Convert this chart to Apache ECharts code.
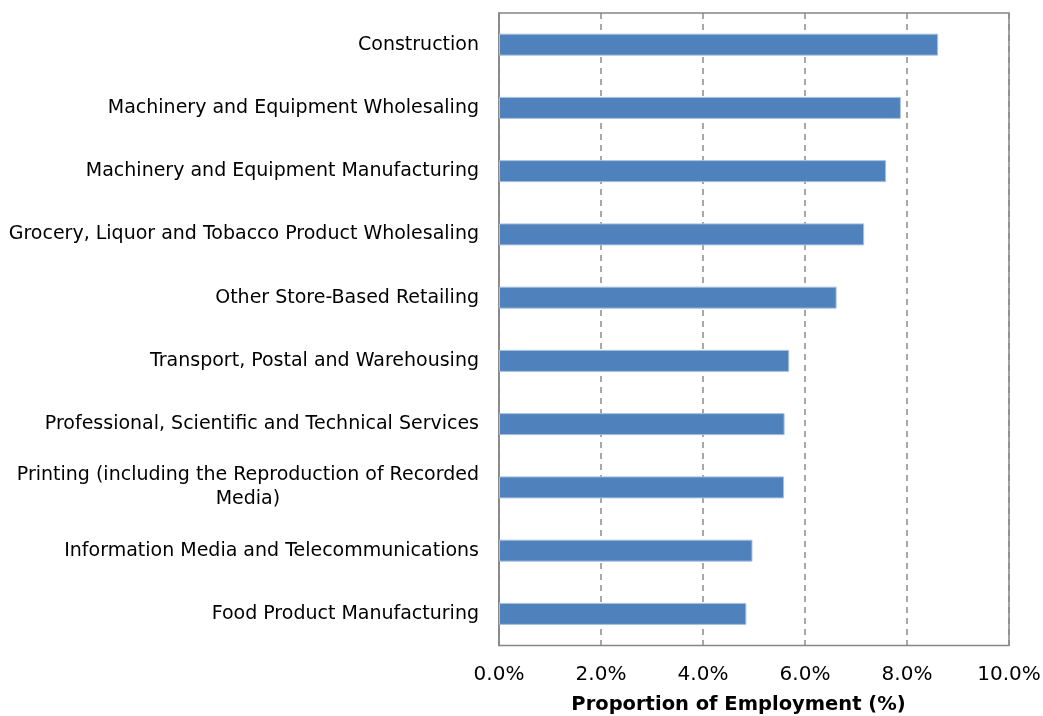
<!DOCTYPE html>
<html>
<head>
<meta charset="utf-8">
<script src="https://cdn.jsdelivr.net/npm/echarts@6/dist/echarts.min.js"></script>
<style>
  html, body { margin: 0; padding: 0; background: #fff; }
  #main { width: 1043px; height: 716px; }
</style>
</head>
<body>
<div id="main"></div>
<script>
// industries, top to bottom
const industries = [
  'Construction',
  'Machinery and Equipment Wholesaling',
  'Machinery and Equipment Manufacturing',
  'Grocery, Liquor and Tobacco Product Wholesaling',
  'Other Store-Based Retailing',
  'Transport, Postal and Warehousing',
  'Professional, Scientific and Technical Services',
  'Printing (including the Reproduction of Recorded Media)',
  'Information Media and Telecommunications',
  'Food Product Manufacturing'
];
// proportion of employment, %
const shares = [8.61, 7.88, 7.59, 7.16, 6.62, 5.69, 5.60, 5.59, 4.97, 4.85];

const font = 'DejaVu Sans';

let chart = echarts.init(document.getElementById('main'));
chart.setOption({
  animation: false,
  grid: {
    left: 499, right: 34, top: 13, bottom: 70.5,
    outerBoundsMode: 'none',
    show: true, borderColor: '#868686', borderWidth: 1.5
  },
  xAxis: {
    type: 'value',
    min: 0, max: 10, interval: 2,
    axisLine: { show: false },
    axisTick: { show: false },
    splitLine: { lineStyle: { color: '#8c8c8c', type: [6, 5], width: 1.5 } },
    axisLabel: {
      margin: 19, color: '#000', fontFamily: font, fontSize: 20,
      formatter: v => v.toFixed(1) + '%'
    },
    name: 'Proportion of Employment (%)',
    nameLocation: 'middle',
    nameGap: 49,
    nameTextStyle: {
      fontFamily: font, fontSize: 19.5, fontWeight: 'bold', color: '#000',
      padding: [0, 31, 0, 0]
    }
  },
  yAxis: {
    type: 'category',
    inverse: true,
    data: industries,
    axisLine: { show: true, lineStyle: { color: '#868686', width: 1.5 } },
    axisTick: { show: false },
    axisLabel: {
      margin: 20, color: '#000', fontFamily: font, fontSize: 19,
      formatter: function (v) {
        if (v.indexOf('Printing') === 0) {
          return '{c|Printing (including the Reproduction of Recorded}\n{c|Media)}';
        }
        return v;
      },
      rich: {
        c: { align: 'center', fontFamily: font, fontSize: 19, color: '#000', lineHeight: 24 }
      }
    }
  },
  series: [{
    type: 'bar',
    data: shares,
    barWidth: 22,
    itemStyle: { color: '#4f81bd', borderColor: '#a9c1df', borderWidth: 1 }
  }]
});
</script>
</body>
</html>
